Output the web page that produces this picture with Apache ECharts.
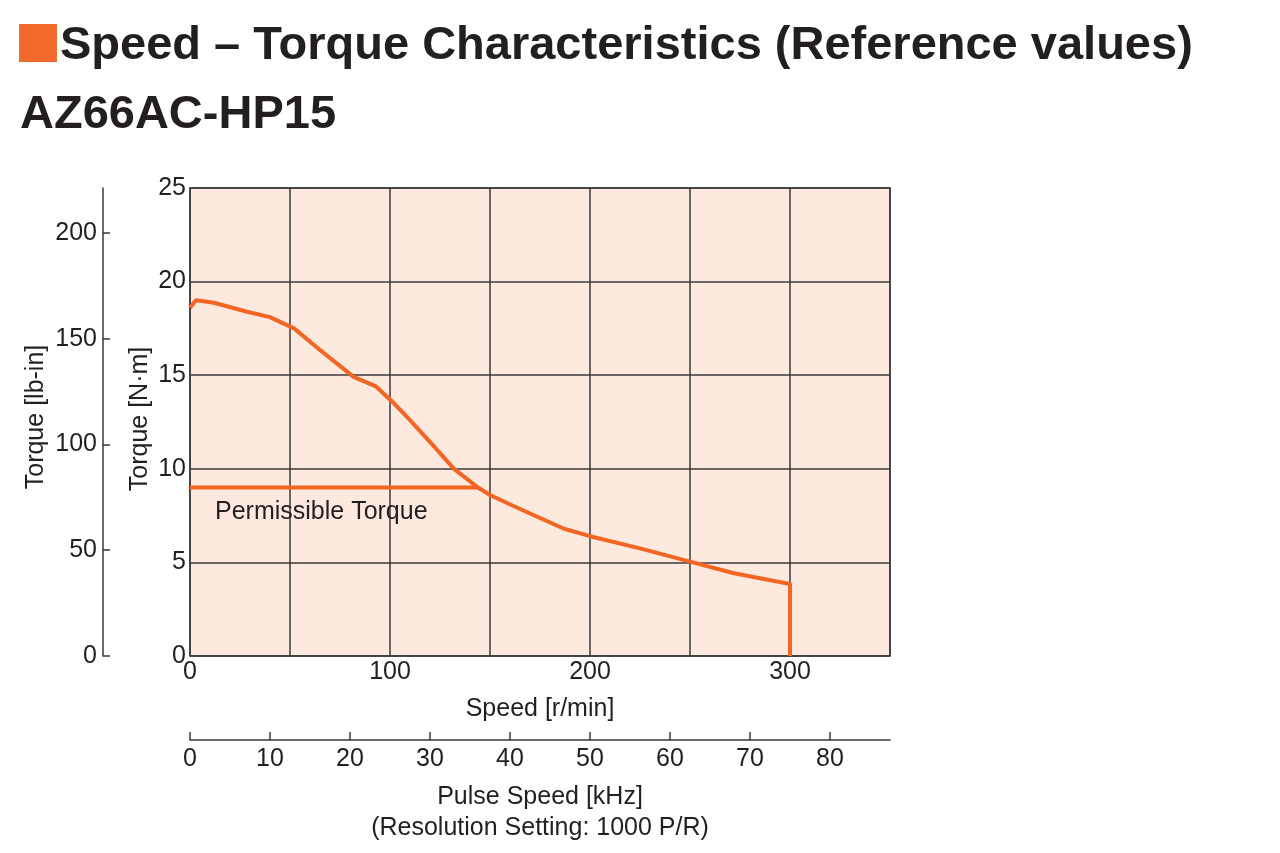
<!DOCTYPE html>
<html>
<head>
<meta charset="utf-8">
<script src="https://cdn.jsdelivr.net/npm/echarts@6/dist/echarts.min.js"></script>
<style>
  html, body { margin: 0; padding: 0; background: #fff; }
  #chart { width: 1280px; height: 853px; }
</style>
</head>
<body>
<div id="chart"></div>
<script>
// speed [r/min] vs torque [N·m]
const speed = [0, 3, 12, 28, 40, 52, 65, 82, 93, 102, 110, 122, 132, 144, 150, 162, 187, 200, 225, 250, 272, 300, 300]
const torque = [18.6, 19.0, 18.87, 18.4, 18.1, 17.5, 16.35, 14.9, 14.4, 13.5, 12.6, 11.2, 10.0, 9.0, 8.6, 8.0, 6.8, 6.4, 5.75, 5.04, 4.42, 3.85, 0]

// permissible torque line
const permSpeed = [0, 144]
const permTorque = [9, 9]

const speedLabels = [0, 100, 200, 300]
const pulseLabels = [0, 10, 20, 30, 40, 50, 60, 70, 80]
const lbinLabels = [0, 50, 100, 150, 200]

const NM_TO_LBIN = 8.8507
const RPM_TO_KHZ = 0.25

const FONT = 'Liberation Sans, Arial, sans-serif'
const TEXT = '#231f20'
const GRIDLINE = '#3a3a3a'
const ORANGE = '#f26522'

const chart = echarts.init(document.getElementById('chart'))

const tickText = { fontFamily: FONT, fontSize: 25, color: TEXT }
const nameText = { fontFamily: FONT, fontSize: 25, color: TEXT }

// y axis names are drawn as graphic text so v6's overlap shifting doesn't move them
const yName = (text, x, y) => ({
  type: 'text', x, y, rotation: Math.PI / 2,
  style: { text, font: '25px ' + FONT, fill: TEXT, align: 'center', verticalAlign: 'middle' }
})

const option = {
  animation: false,
  backgroundColor: '#fff',
  grid: [
    {
      left: 190, top: 188, width: 700, height: 468,
      show: true, backgroundColor: '#fde9dd',
      borderColor: GRIDLINE, borderWidth: 1.5
    },
    { left: 190, top: 740, width: 700, height: 0 }
  ],
  xAxis: [
    {
      gridIndex: 0, type: 'value', min: 0, max: 350, interval: 50,
      axisLine: { show: false },
      axisTick: { show: false },
      splitLine: { show: true, lineStyle: { color: GRIDLINE, width: 1.5 } },
      axisLabel: { ...tickText, margin: 4, customValues: speedLabels },
      name: 'Speed [r/min]', nameLocation: 'middle', nameGap: 39,
      nameTextStyle: { ...nameText, lineHeight: 28 }
    },
    {
      gridIndex: 1, type: 'value', min: 0, max: 350 * RPM_TO_KHZ,
      axisLine: { show: true, lineStyle: { color: GRIDLINE, width: 1.5 } },
      axisTick: { show: true, inside: true, length: 8, customValues: pulseLabels,
        lineStyle: { color: GRIDLINE, width: 1.5 } },
      splitLine: { show: false },
      axisLabel: { ...tickText, margin: 7, customValues: pulseLabels },
      name: 'Pulse Speed [kHz]\n(Resolution Setting: 1000 P/R)',
      nameLocation: 'middle', nameGap: 42,
      nameTextStyle: { ...nameText, lineHeight: 31 }
    }
  ],
  yAxis: [
    {
      gridIndex: 0, type: 'value', min: 0, max: 25, interval: 5, position: 'left',
      axisLine: { show: false },
      axisTick: { show: false },
      splitLine: { show: true, lineStyle: { color: GRIDLINE, width: 1.5 } },
      axisLabel: { ...tickText, margin: 4 }
    },
    {
      gridIndex: 0, type: 'value', min: 0, max: 25 * NM_TO_LBIN, position: 'left', offset: 87,
      axisLine: { show: true, lineStyle: { color: GRIDLINE, width: 1.5 } },
      axisTick: { show: true, inside: true, length: 7, customValues: lbinLabels,
        lineStyle: { color: GRIDLINE, width: 1.5 } },
      splitLine: { show: false },
      axisLabel: { ...tickText, margin: 6, customValues: lbinLabels }
    },
    { gridIndex: 1, type: 'value', show: false }
  ],
  series: [
    {
      type: 'line', xAxisIndex: 0, yAxisIndex: 0,
      data: permSpeed.map((s, i) => [s, permTorque[i]]),
      symbol: 'none', lineStyle: { color: ORANGE, width: 4 }, z: 4
    },
    {
      type: 'line', xAxisIndex: 0, yAxisIndex: 0,
      data: speed.map((s, i) => [s, torque[i]]),
      symbol: 'none', lineStyle: { color: ORANGE, width: 4, join: 'round' }, z: 5
    }
  ],
  graphic: [
    { type: 'rect', shape: { x: 19, y: 24, width: 38, height: 38 }, style: { fill: '#f26a2c' } },
    {
      type: 'text', x: 60, y: 46,
      style: { text: 'Speed – Torque Characteristics (Reference values)', font: 'bold 47px ' + FONT,
        fill: TEXT, verticalAlign: 'middle' }
    },
    {
      type: 'text', x: 20, y: 115,
      style: { text: 'AZ66AC-HP15', font: 'bold 47px ' + FONT, fill: TEXT, verticalAlign: 'middle' }
    },
    {
      type: 'text', x: 215, y: 512, z: 10,
      style: { text: 'Permissible Torque', font: '25px ' + FONT, fill: TEXT, verticalAlign: 'middle' }
    },
    yName('Torque [lb-in]', 36, 417),
    yName('Torque [N·m]', 140, 419)
  ]
}

chart.setOption(option)
</script>
</body>
</html>
